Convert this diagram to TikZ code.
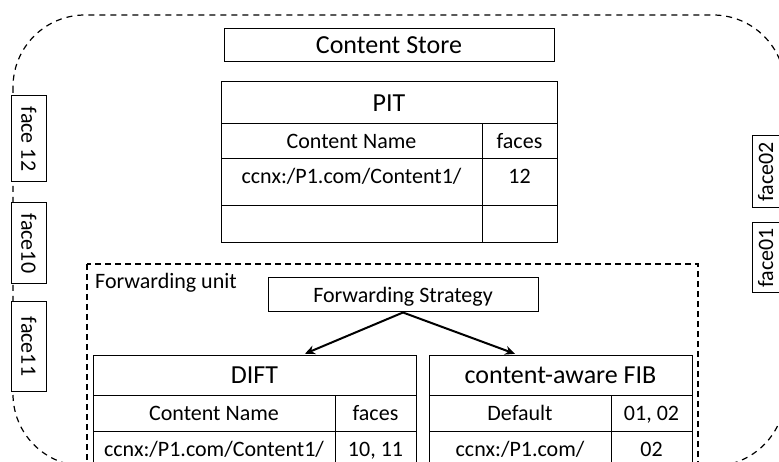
\documentclass[tikz,border=0pt]{standalone}
\usepackage{fontspec}
\setmainfont{Carlito}
\usetikzlibrary{arrows.meta,calc}

\begin{document}
\begin{tikzpicture}[x=1pt,y=1pt,yscale=-1,xscale=1,
    cell/.style={draw,fill=white,line width=1pt,inner sep=0pt,text depth=0pt},
    big/.style={font=\fontsize{26}{30}\selectfont,text height=16.7pt},
    small/.style={font=\fontsize{22}{26}\selectfont,text height=14.2pt},
    entry/.style={cell,small,text height=25pt,text depth=22pt},
    face/.style={cell,small,minimum height=35pt},
    link/.style={line width=2pt,-{Stealth[length=10pt,width=9pt]},shorten >=2pt}]
\useasboundingbox (0,0) rectangle (779,462);
\clip (0,0) rectangle (779,462);
\draw [line width=1.2pt,dash pattern={on 6pt off 5pt},rounded corners=72pt] (13,15) rectangle (785,466);
\draw [line width=1.2pt,dash pattern={on 6pt off 4pt}] (87,264) rectangle (698,490);
\node [anchor=base west,inner sep=0pt,small] (unit) at (95,289) {Forwarding unit};
\node [cell,big,minimum width=330pt,minimum height=33pt] (store) at (389,45.5) {Content Store};
\node [cell,big,minimum width=336pt,minimum height=42pt] (pit) at (389,103) {PIT};
\node [cell,small,minimum width=261pt,minimum height=35pt] (pitname) at (351.5,141.5) {Content Name};
\node [cell,small,minimum width=75pt,minimum height=35pt] (pitfaces) at (519.5,141.5) {faces};
\node [entry,minimum width=261pt] (pitentry) at (351.5,182.5) {ccnx:/P1.com/Content1/};
\node [entry,minimum width=75pt] (pitface) at (519.5,182.5) {12};
\node [cell,minimum width=261pt,minimum height=37pt] (pitfree) at (351.5,224.5) {};
\node [cell,minimum width=75pt,minimum height=37pt] (pitfreeface) at (519.5,224.5) {};
\node [face,minimum width=86pt,rotate=-90] (face12) at (28.5,139) {face 12};
\node [face,minimum width=81pt,rotate=-90] (face10) at (28.5,243.5) {face10};
\node [face,minimum width=89pt,rotate=-90] (face11) at (28.5,346.5) {face11};
\node [face,text depth=7pt,minimum width=72pt,rotate=90] (face02) at (769.5,172) {face02};
\node [face,text depth=7pt,minimum width=70pt,rotate=90] (face01) at (769.5,258) {face01};
\node [cell,small,minimum width=270pt,minimum height=34pt] (strategy) at (403,295) {Forwarding Strategy};
\node [cell,big,minimum width=323pt,minimum height=40pt] (dift) at (254.5,375) {DIFT};
\node [cell,small,minimum width=242pt,minimum height=36pt] (diftname) at (214,413) {Content Name};
\node [cell,small,minimum width=81pt,minimum height=36pt] (diftfaces) at (375.5,413) {faces};
\node [entry,minimum width=242pt] (diftentry) at (214,454.5) {ccnx:/P1.com/Content1/};
\node [entry,minimum width=81pt] (diftface) at (375.5,454.5) {10, 11};
\node [cell,big,minimum width=263pt,minimum height=40pt] (fib) at (560.5,375) {content-aware FIB};
\node [cell,small,minimum width=182pt,minimum height=36pt] (fibdefault) at (520,413) {Default};
\node [cell,small,minimum width=81pt,minimum height=36pt] (fibdefaultface) at (651.5,413) {01, 02};
\node [entry,minimum width=182pt] (fibentry) at (520,454.5) {ccnx:/P1.com/};
\node [entry,minimum width=81pt] (fibface) at (651.5,454.5) {02};
\draw [link] (strategy.south) -- ($(dift.north west)!0.65!(dift.north east)$);
\draw [link] (strategy.south) -- ($(fib.north west)!0.335!(fib.north east)$);
\end{tikzpicture}
\end{document}
